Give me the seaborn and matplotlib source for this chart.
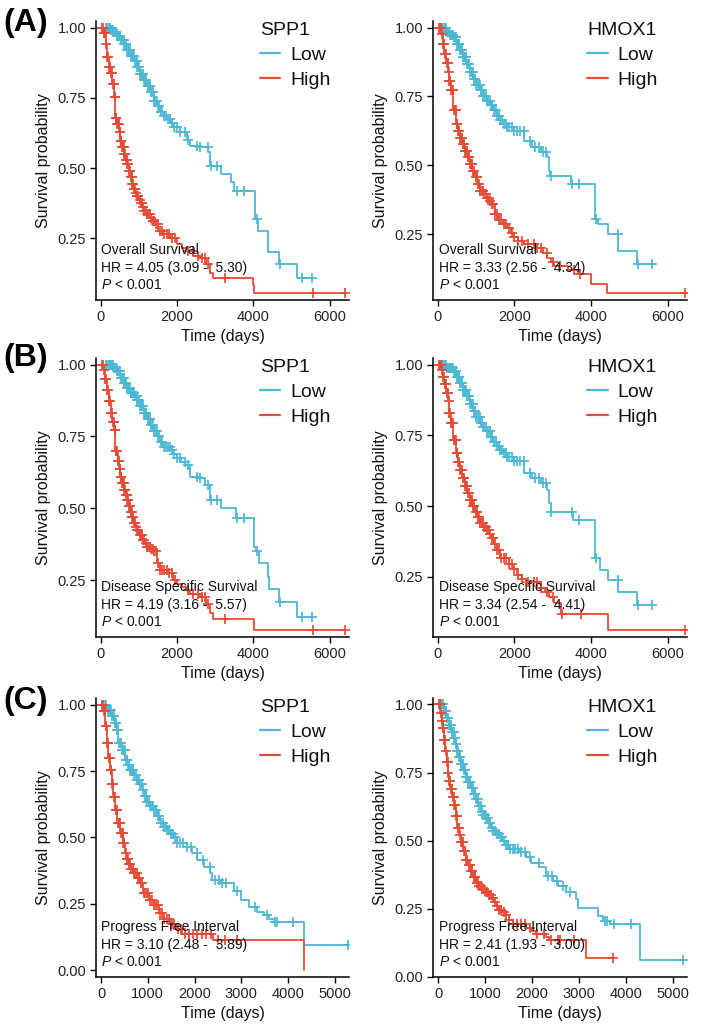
import numpy as np
import matplotlib
matplotlib.use("Agg")
import matplotlib.pyplot as plt
from matplotlib.lines import Line2D
import seaborn as sns

# ---------------- data ----------------
LOW_COLOR = "#4DB8D4"
HIGH_COLOR = "#E64B35"
group_labels = ["Low", "High"]

# (A) Overall survival
A_spp1_low = [(0,1.0),(260,0.99),(330,0.985),(430,0.97),(520,0.955),(610,0.94),(690,0.92),(780,0.90),
              (866,0.883),(950,0.86),(1040,0.836),(1120,0.815),(1212,0.794),(1300,0.77),(1385,0.74),
              (1470,0.72),(1558,0.70),(1650,0.685),(1732,0.675),(1820,0.66),(1905,0.645),(2078,0.627),
              (2250,0.60),(2338,0.58),(2600,0.574),(2810,0.556),(2860,0.506),(3160,0.478),(3420,0.45),
              (3500,0.42),(4030,0.32),(4120,0.276),(4380,0.20),(4680,0.157),(5150,0.11),(5550,0.11)]
A_spp1_low_cens = [130,170,210,240,270,295,320,345,365,390,410,435,455,480,505,525,550,575,600,625,
                   650,672,695,720,745,770,790,815,840,865,890,915,940,965,990,1015,1040,1065,1090,
                   1115,1140,1170,1200,1230,1255,1285,1310,1340,1370,1400,1430,1465,1500,1540,1580,
                   1620,1660,1710,1760,1810,1860,1920,1990,2080,2200,2300,2520,2600,2800,2900,3050,
                   3580,3740,4080,4700,5280,5520]
A_spp1_high = [(0,1.0),(87,0.98),(130,0.94),(173,0.895),(216,0.86),(260,0.84),(303,0.80),(346,0.752),
               (390,0.68),(433,0.657),(476,0.63),(520,0.598),(563,0.575),(606,0.55),(650,0.53),
               (693,0.514),(736,0.49),(780,0.467),(823,0.445),(866,0.425),(910,0.41),(952,0.40),
               (1000,0.388),(1040,0.377),(1083,0.362),(1126,0.348),(1213,0.335),(1300,0.324),
               (1365,0.312),(1430,0.30),(1515,0.276),(1645,0.264),(1818,0.252),(1990,0.229),
               (2120,0.215),(2250,0.205),(2424,0.187),(2600,0.181),(2770,0.157),(2857,0.127),
               (2944,0.11),(3983,0.083),(4026,0.054),(6400,0.054)]
A_spp1_high_cens = [40,70,100,125,150,180,200,230,250,280,300,320,340,365,380,400,415,440,460,475,
                    495,510,530,545,565,585,600,620,640,660,680,700,720,745,765,790,810,835,860,885,
                    905,930,960,990,1020,1050,1080,1110,1145,1180,1215,1250,1290,1330,1370,1410,1460,
                    1510,1560,1610,1660,1730,1800,1870,1950,2300,2420,2550,2650,2720,2820,3250,5570,
                    6400]

A_hmox1_low = [(0,1.0),(220,0.984),(300,0.975),(396,0.966),(480,0.94),(573,0.917),(660,0.893),
               (749,0.869),(840,0.84),(925,0.814),(1010,0.793),(1101,0.772),(1190,0.753),(1278,0.735),
               (1366,0.718),(1454,0.70),(1540,0.68),(1630,0.663),(1720,0.65),(1806,0.638),(1982,0.626),
               (2247,0.59),(2467,0.565),(2687,0.547),(2863,0.53),(2907,0.48),(2940,0.462),(3480,0.432),
               (4097,0.305),(4185,0.286),(4449,0.25),(4714,0.19),(5198,0.14),(5595,0.14)]
A_hmox1_low_cens = [120,150,180,210,240,265,290,320,345,370,395,420,445,470,495,520,545,570,595,620,
                    645,670,695,720,745,770,795,820,845,870,895,920,950,980,1010,1040,1070,1100,1130,
                    1160,1190,1220,1250,1285,1320,1355,1390,1430,1470,1510,1550,1590,1635,1680,1725,
                    1770,1820,1870,1930,1990,2060,2140,2240,2400,2550,2650,2740,2830,2960,3490,3690,
                    4120,4710,5230,5580]
A_hmox1_high = [(0,1.0),(88,0.978),(132,0.94),(176,0.905),(220,0.87),(264,0.84),(308,0.805),(352,0.772),
                (414,0.70),(485,0.65),(530,0.625),(573,0.60),(640,0.576),(705,0.553),(770,0.53),
                (837,0.505),(903,0.48),(969,0.456),(1035,0.432),(1101,0.408),(1190,0.395),(1278,0.383),
                (1344,0.37),(1410,0.359),(1498,0.323),(1586,0.30),(1700,0.287),(1806,0.274),(1900,0.255),
                (1982,0.238),(2100,0.226),(2247,0.214),(2600,0.20),(2750,0.18),(2863,0.165),(2950,0.15),
                (3040,0.135),(3392,0.12),(3656,0.104),(3991,0.07),(4405,0.035),(6475,0.035)]
A_hmox1_high_cens = [30,60,85,110,140,165,190,215,240,260,285,310,335,355,380,400,425,445,470,495,
                     515,540,560,585,610,635,660,685,710,735,760,785,810,840,870,900,930,960,990,1020,
                     1050,1080,1110,1145,1180,1215,1250,1290,1330,1370,1410,1450,1500,1550,1600,1660,
                     1720,1780,1850,1930,2000,2100,2200,2350,2500,2600,2700,2850,3000,3200,3550,3700,
                     6460]

# (B) Disease specific survival
B_spp1_low = [(0,1.0),(330,0.99),(433,0.977),(520,0.955),(606,0.936),(693,0.918),(780,0.90),(866,0.89),
              (952,0.878),(1040,0.855),(1126,0.83),(1213,0.81),(1300,0.79),(1385,0.77),(1472,0.75),
              (1558,0.732),(1645,0.715),(1818,0.703),(1905,0.69),(1990,0.674),(2100,0.662),(2208,0.65),
              (2338,0.61),(2597,0.605),(2727,0.58),(2857,0.53),(3160,0.50),(3550,0.465),(4026,0.366),
              (4070,0.35),(4156,0.31),(4372,0.262),(4416,0.22),(4675,0.174),(5150,0.122),(5540,0.122)]
B_spp1_low_cens = [130,170,210,240,270,295,320,345,365,390,410,435,455,480,505,525,550,575,600,625,
                   650,672,695,720,745,770,790,815,840,865,890,915,940,965,990,1015,1040,1065,1090,
                   1115,1140,1170,1200,1230,1255,1285,1310,1340,1370,1400,1430,1465,1500,1540,1580,
                   1620,1660,1710,1760,1810,1860,1920,1990,2080,2200,2300,2520,2600,2800,2900,3050,
                   3580,3740,4080,4700,5280,5520]
B_spp1_high = [(0,1.0),(87,0.983),(120,0.95),(156,0.913),(216,0.872),(277,0.83),(310,0.80),(346,0.773),
               (390,0.70),(450,0.663),(485,0.635),(520,0.61),(563,0.587),(606,0.564),(650,0.546),
               (693,0.529),(736,0.508),(780,0.488),(823,0.468),(866,0.448),(910,0.436),(952,0.424),
               (1017,0.407),(1082,0.39),(1147,0.378),(1212,0.366),(1300,0.358),(1385,0.35),(1472,0.308),
               (1558,0.285),(1732,0.273),(1905,0.25),(2010,0.238),(2121,0.227),(2230,0.215),(2338,0.203),
               (2597,0.19),(2770,0.168),(2857,0.134),(2944,0.116),(4026,0.075),(6400,0.075)]
B_spp1_high_cens = [40,70,100,125,150,180,200,230,250,280,300,320,340,365,380,400,415,440,460,475,
                    495,510,530,545,565,585,600,620,640,660,680,700,720,745,765,790,810,835,860,885,
                    905,930,960,990,1020,1050,1080,1110,1145,1180,1215,1250,1290,1330,1370,1410,1460,
                    1510,1560,1610,1660,1730,1800,1870,1950,2300,2420,2550,2650,2720,2820,3250,5570,
                    6400]

B_hmox1_low = [(0,1.0),(220,0.988),(396,0.976),(480,0.956),(573,0.935),(660,0.912),(749,0.888),(840,0.86),
               (925,0.835),(1010,0.814),(1101,0.793),(1190,0.778),(1278,0.764),(1366,0.746),(1454,0.728),
               (1540,0.714),(1630,0.70),(1720,0.687),(1806,0.675),(1982,0.658),(2247,0.616),(2467,0.60),
               (2687,0.58),(2863,0.557),(2907,0.51),(2950,0.48),(3524,0.45),(4097,0.315),(4229,0.274),
               (4449,0.238),(4714,0.197),(5198,0.15),(5595,0.15)]
B_hmox1_low_cens = [120,150,180,210,240,265,290,320,345,370,395,420,445,470,495,520,545,570,595,620,
                    645,670,695,720,745,770,795,820,845,870,895,920,950,980,1010,1040,1070,1100,1130,
                    1160,1190,1220,1250,1285,1320,1355,1390,1430,1470,1510,1550,1590,1635,1680,1725,
                    1770,1820,1870,1930,1990,2060,2140,2240,2400,2550,2650,2740,2830,2960,3490,3690,
                    4120,4710,5230,5580]
B_hmox1_high = [(0,1.0),(88,0.982),(132,0.956),(176,0.93),(220,0.90),(264,0.87),(308,0.83),(352,0.793),
                (414,0.734),(485,0.687),(530,0.657),(573,0.628),(640,0.60),(705,0.57),(770,0.545),
                (837,0.52),(903,0.50),(969,0.48),(1035,0.46),(1101,0.44),(1190,0.427),(1278,0.415),
                (1344,0.40),(1410,0.386),(1476,0.365),(1542,0.345),(1630,0.315),(1850,0.297),(1960,0.277),
                (2070,0.256),(2200,0.244),(2335,0.232),(2687,0.209),(2800,0.195),(2907,0.18),(3040,0.156),
                (3216,0.12),(4449,0.061),(6475,0.061)]
B_hmox1_high_cens = [30,60,85,110,140,165,190,215,240,260,285,310,335,355,380,400,425,445,470,495,
                     515,540,560,585,610,635,660,685,710,735,760,785,810,840,870,900,930,960,990,1020,
                     1050,1080,1110,1145,1180,1215,1250,1290,1330,1370,1410,1450,1500,1550,1600,1660,
                     1720,1780,1850,1930,2000,2100,2200,2350,2500,2600,2700,2850,3000,3250,3750,6460]

# (C) Progress free interval
C_spp1_low = [(0,1.0),(122,0.98),(229,0.956),(300,0.93),(336,0.906),(372,0.855),(443,0.83),(515,0.79),
              (570,0.772),(622,0.755),(700,0.736),(765,0.717),(820,0.70),(873,0.68),(930,0.655),
              (980,0.635),(1050,0.62),(1123,0.604),(1190,0.58),(1266,0.553),(1340,0.54),(1409,0.528),
              (1480,0.515),(1552,0.503),(1624,0.478),(1838,0.465),(1946,0.44),(2053,0.415),(2196,0.39),
              (2339,0.365),(2375,0.34),(2554,0.327),(2840,0.30),(2983,0.264),(3162,0.239),(3340,0.22),
              (3484,0.207),(3591,0.195),(3698,0.182),(4328,0.094),(5272,0.094)]
C_spp1_low_cens = [80,110,140,165,190,215,240,260,285,305,325,345,365,385,405,425,445,465,485,505,
                   525,545,565,585,605,625,645,665,690,715,740,765,790,815,840,870,900,930,960,990,
                   1020,1050,1080,1110,1140,1175,1210,1245,1280,1315,1350,1385,1420,1460,1500,1540,
                   1580,1630,1690,1760,1840,1920,2050,2190,2330,2430,2530,2580,2680,2900,3300,3550,
                   3720,3760,4110,5270]
C_spp1_high = [(0,1.0),(50,0.975),(86,0.918),(122,0.855),(157,0.80),(193,0.755),(229,0.70),(265,0.654),
               (300,0.604),(350,0.553),(408,0.516),(465,0.478),(515,0.44),(550,0.42),(587,0.40),
               (640,0.382),(694,0.365),(765,0.346),(837,0.327),(908,0.29),(1016,0.264),(1123,0.245),
               (1230,0.214),(1338,0.195),(1481,0.176),(1624,0.157),(1731,0.138),(2400,0.113),(4328,0.0)]
C_spp1_high_cens = [20,40,60,80,100,115,135,150,170,185,205,220,240,255,275,290,310,330,345,365,385,
                    400,420,440,460,480,500,525,550,575,600,625,650,675,700,730,760,790,820,850,880,
                    910,945,980,1015,1050,1090,1130,1170,1210,1255,1300,1350,1400,1450,1510,1570,1640,
                    1720,1800,1880,1960,2050,2150,2250,2350,2500,2650,2900]

C_hmox1_low = [(0,1.0),(121,0.976),(175,0.95),(229,0.923),(282,0.90),(336,0.876),(372,0.853),(407,0.83),
               (443,0.806),(479,0.782),(532,0.758),(586,0.735),(640,0.714),(693,0.694),(746,0.673),
               (800,0.653),(853,0.629),(907,0.605),(960,0.593),(1014,0.582),(1068,0.565),(1121,0.547),
               (1175,0.535),(1229,0.523),(1300,0.512),(1371,0.50),(1443,0.485),(1514,0.47),(1729,0.458),
               (1871,0.44),(1979,0.417),(2157,0.405),(2300,0.37),(2443,0.352),(2550,0.335),(2729,0.31),
               (2943,0.287),(2979,0.252),(3407,0.223),(3514,0.205),(3657,0.193),(4300,0.064),(5229,0.064)]
C_hmox1_low_cens = [40,65,90,110,130,150,170,190,210,230,250,270,290,310,330,350,370,390,410,430,
                    450,470,490,510,530,550,570,590,615,640,665,690,715,740,765,790,815,845,875,905,
                    935,965,995,1025,1055,1085,1115,1145,1180,1215,1250,1290,1330,1370,1410,1450,
                    1495,1540,1590,1640,1700,1770,1850,1950,2150,2350,2430,2540,2650,2800,3550,3600,
                    3750,4100,5220]
C_hmox1_high = [(0,1.0),(50,0.97),(75,0.94),(100,0.912),(128,0.87),(157,0.83),(185,0.79),(214,0.747),
                (240,0.718),(264,0.688),(300,0.66),(336,0.63),(372,0.59),(407,0.547),(443,0.52),
                (479,0.494),(532,0.462),(586,0.43),(640,0.41),(693,0.388),(746,0.367),(800,0.346),
                (870,0.335),(943,0.323),(1015,0.311),(1086,0.30),(1140,0.288),(1193,0.276),(1247,0.261),
                (1300,0.246),(1372,0.237),(1443,0.228),(1515,0.21),(1586,0.193),(1871,0.18),(1980,0.169),
                (2086,0.158),(2300,0.146),(2371,0.134),(3157,0.07),(3729,0.07)]
C_hmox1_high_cens = [20,40,60,80,100,115,135,150,170,185,205,220,240,255,275,290,310,330,345,365,385,
                     400,420,440,460,480,500,525,550,575,600,625,650,675,700,730,760,790,820,850,880,
                     910,945,980,1015,1050,1090,1130,1170,1210,1255,1300,1350,1400,1450,1520,1600,
                     1680,1760,1850,1950,2100,2250,2400,2550,2600,2900,3730]

endpoints = ["Overall Survival", "Disease Specific Survival", "Progress Free Interval"]
genes = ["SPP1", "HMOX1"]
hr_text = [["HR = 4.05 (3.09 -  5.30)", "HR = 3.33 (2.56 -  4.34)"],
           ["HR = 4.19 (3.16 -  5.57)", "HR = 3.34 (2.54 -  4.41)"],
           ["HR = 3.10 (2.48 -  3.89)", "HR = 2.41 (1.93 -  3.00)"]]
p_text = "< 0.001"
panel_letters = ["(A)", "(B)", "(C)"]
xticks_rows = [[0, 2000, 4000, 6000], [0, 2000, 4000, 6000], [0, 1000, 2000, 3000, 4000, 5000]]
yticks_rows = [[0.25, 0.50, 0.75, 1.00], [0.25, 0.50, 0.75, 1.00], [0.00, 0.25, 0.50, 0.75, 1.00]]
xlims_rows = [(-120, 6500), (-120, 6500), (-107, 5300)]

curves = [
    [(A_spp1_low, A_spp1_low_cens, A_spp1_high, A_spp1_high_cens),
     (A_hmox1_low, A_hmox1_low_cens, A_hmox1_high, A_hmox1_high_cens)],
    [(B_spp1_low, B_spp1_low_cens, B_spp1_high, B_spp1_high_cens),
     (B_hmox1_low, B_hmox1_low_cens, B_hmox1_high, B_hmox1_high_cens)],
    [(C_spp1_low, C_spp1_low_cens, C_spp1_high, C_spp1_high_cens),
     (C_hmox1_low, C_hmox1_low_cens, C_hmox1_high, C_hmox1_high_cens)],
]

# ---------------- style ----------------
sns.set_theme(style="ticks")
plt.rcParams["font.family"] = ["Liberation Sans", "DejaVu Sans"]
plt.rcParams["mathtext.fontset"] = "custom"
plt.rcParams["mathtext.rm"] = "Liberation Sans"
plt.rcParams["mathtext.it"] = "Liberation Sans:italic"

W, H = 709, 1029
fig = plt.figure(figsize=(W / 100, H / 100), dpi=100)

col_x = [(96, 349), (433, 687)]
row_y = [(21, 300), (358, 637), (698, 977)]
letter_y = [23, 358, 701]


def draw_km(ax, pts, cens, color):
    t = np.array([p[0] for p in pts], dtype=float)
    s = np.array([p[1] for p in pts], dtype=float)
    sns.lineplot(x=t, y=s, ax=ax, color=color, linewidth=1.3, drawstyle="steps-post",
                 estimator=None, sort=False)
    c = np.array(cens, dtype=float)
    idx = np.searchsorted(t, c, side="right") - 1
    sns.scatterplot(x=c, y=s[idx], ax=ax, color=color, marker="+", s=42, linewidth=1.25,
                    zorder=3)
    return s.min()


for r in range(3):
    for cidx in range(2):
        x0, x1 = col_x[cidx]
        ytop, ybot = row_y[r]
        ax = fig.add_axes([x0 / W, 1 - ybot / H, (x1 - x0) / W, (ybot - ytop) / H])
        low, low_c, high, high_c = curves[r][cidx]
        m1 = draw_km(ax, low, low_c, LOW_COLOR)
        m2 = draw_km(ax, high, high_c, HIGH_COLOR)
        ymin = min(m1, m2)
        pad = 0.025 * (1 - ymin)
        ax.set_ylim(ymin - pad, 1 + pad)
        ax.set_xlim(*xlims_rows[r])
        ax.set_xticks(xticks_rows[r])
        ax.set_xticklabels([str(v) for v in xticks_rows[r]])
        ax.set_yticks(yticks_rows[r])
        ax.set_yticklabels([f"{v:.2f}" for v in yticks_rows[r]])
        sns.despine(ax=ax)
        for sp in ["left", "bottom"]:
            ax.spines[sp].set_color("black")
            ax.spines[sp].set_linewidth(1.1)
        ax.tick_params(axis="both", direction="out", length=4, width=1.0, color="black",
                       labelsize=10.5, labelcolor="#222222", pad=3)
        ax.set_xlabel("Time (days)", fontsize=11.5, labelpad=4, color="#111111")
        ax.set_ylabel("Survival probability", fontsize=11.5, labelpad=5, color="#111111")
        ax.grid(False)

        tx = 0.02 if cidx == 0 else 0.025
        ax.text(tx, 0.178, endpoints[r], transform=ax.transAxes, fontsize=10, va="center",
                ha="left", color="#111111")
        ax.text(tx, 0.116, hr_text[r][cidx], transform=ax.transAxes, fontsize=10, va="center",
                ha="left", color="#111111")
        ax.text(tx, 0.053, r"$\mathit{P}$ " + p_text, transform=ax.transAxes, fontsize=10,
                va="center", ha="left", color="#111111")

        handles = [Line2D([0], [0], color=LOW_COLOR, lw=1.6),
                   Line2D([0], [0], color=HIGH_COLOR, lw=1.6)]
        lx = 0.648 if cidx == 0 else 0.607
        leg = ax.legend(handles, group_labels, title=genes[cidx], loc="upper left",
                        bbox_to_anchor=(lx, 0.998), frameon=False, fontsize=14,
                        title_fontsize=14, borderpad=0, borderaxespad=0, handlelength=1.05,
                        handletextpad=0.5, labelspacing=0.38, alignment="left")
        for txt in leg.get_texts():
            txt.set_color("#111111")
        leg.get_title().set_color("#111111")

    fig.text(3 / W, 1 - letter_y[r] / H, panel_letters[r], fontsize=23, fontweight="bold",
             va="center", ha="left", color="black")

fig.savefig("out.png", dpi=100)
